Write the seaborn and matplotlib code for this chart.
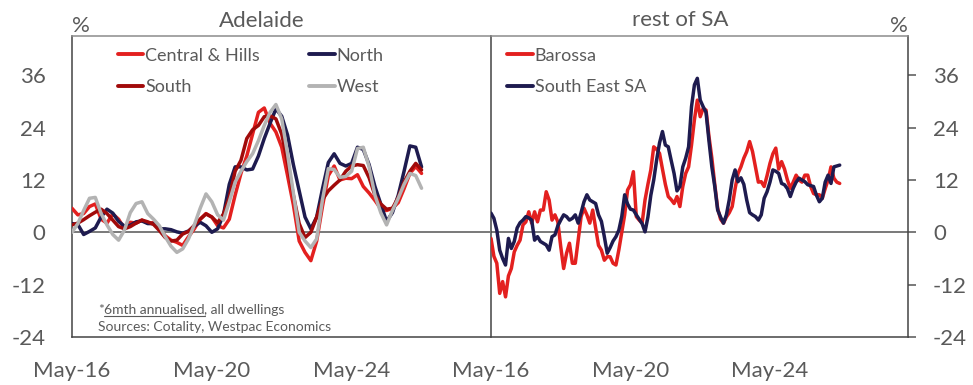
import numpy as np
import pandas as pd
import matplotlib
matplotlib.use("Agg")
import matplotlib.pyplot as plt
from matplotlib.lines import Line2D
import seaborn as sns

# Dwelling value growth, 6mth annualised (%); months counted from May-16
# Adelaide regions: every second month
months_adl = np.arange(0, 121, 2)

central_hills = [5.5, 4.0, 4.3, 5.9, 6.5, 3.0, 2.1, 4.2, 3.0, 0.8, 2.3, 2.1, 2.8, 2.1, 2.2, 0.8,
                 -0.8, -1.8, -2.3, -3.0, -1.0, 0.8, 3.0, 4.3, 3.5, 1.5, 1.0, 3.0, 8.5, 13.5, 17.5,
                 22.5, 27.5, 28.5, 25.0, 23.0, 19.5, 13.0, 6.3, -2.0, -4.6, -6.5, -2.0, 6.0, 13.0,
                 15.2, 12.0, 12.4, 12.3, 13.2, 10.5, 9.0, 7.3, 5.4, 5.0, 5.5, 6.8, 10.0, 13.5, 15.1, 13.5]
north = [2.0, 1.8, -0.5, 0.2, 1.0, 3.5, 5.3, 4.4, 2.5, 1.4, 1.6, 2.4, 2.6, 2.0, 2.0, 0.8,
         0.8, 0.6, 0.1, -0.2, 0.3, 1.4, 2.3, 1.5, 0.0, 0.8, 4.0, 11.0, 15.0, 15.0, 14.3,
         14.5, 17.5, 21.5, 25.0, 28.3, 26.6, 22.3, 15.5, 9.5, 3.5, 0.8, 3.5, 10.0, 16.0,
         18.0, 15.8, 15.2, 15.8, 19.5, 19.0, 15.5, 10.5, 6.5, 2.5, 4.5, 8.5, 14.0, 19.8, 19.5, 15.0]
south = [1.7, 2.1, 2.9, 3.8, 4.6, 5.3, 4.3, 2.8, 1.3, 0.8, 1.3, 2.1, 2.8, 2.4, 1.8, 0.4,
         -1.2, -2.0, -1.8, -0.4, 0.2, 1.6, 3.0, 4.2, 3.5, 2.2, 4.2, 8.0, 14.0, 16.5, 21.5,
         23.5, 24.5, 26.5, 26.7, 26.0, 22.5, 16.0, 8.5, 2.0, -1.2, 0.0, 3.5, 7.5, 9.5,
         10.8, 12.0, 14.0, 15.2, 15.5, 15.3, 12.5, 8.5, 6.5, 5.3, 5.5, 8.0, 11.5, 14.0, 15.8, 14.3]
west = [0.0, 2.0, 5.0, 7.8, 8.0, 4.3, 1.7, -0.5, -1.8, 0.5, 4.5, 6.6, 7.0, 4.3, 3.0, 1.5,
        -1.0, -3.2, -4.6, -3.8, -1.5, 1.7, 5.5, 8.8, 7.0, 4.0, 2.8, 7.0, 11.5, 14.0, 16.2,
        18.0, 21.0, 24.5, 27.5, 29.3, 26.0, 18.0, 9.0, 0.0, -2.0, -3.5, -1.5, 7.5, 14.6,
        14.4, 12.6, 12.8, 14.0, 19.2, 19.5, 15.0, 8.5, 4.5, 1.7, 5.0, 7.8, 11.0, 13.5, 13.0, 10.1]

# rest of SA regions: monthly
months_rest = np.arange(0, 121)

barossa = [-1.4, -5.5, -7.1, -14.0, -11.3, -14.8, -10.0, -8.3, -4.5, -3.0,
           -1.8, 1.7, 2.4, 4.7, 2.1, 4.7, 2.4, 5.1, 5.1, 9.3,
           7.4, 2.8, 4.0, 2.4, -3.3, -8.3, -4.8, -2.5, -7.1, -7.1,
           -1.8, 3.6, 5.5, 4.0, 2.1, 5.1, 1.0, -3.0, -4.1, -6.4,
           -5.6, -5.6, -7.1, -7.5, -4.0, 0.0, 4.0, 9.7, 10.9, 13.9,
           3.6, 2.8, 2.1, 7.4, 11.0, 14.3, 19.6, 19.0, 18.1, 14.5,
           11.0, 8.2, 7.5, 6.6, 8.2, 5.9, 10.5, 13.5, 15.0, 20.0,
           25.8, 30.3, 26.5, 28.4, 28.0, 22.0, 17.0, 11.0, 5.5, 3.0,
           2.1, 3.5, 4.5, 5.9, 10.0, 13.5, 15.0, 17.0, 18.5, 20.8,
           18.5, 15.0, 11.5, 11.6, 10.5, 13.0, 15.8, 18.0, 19.3, 14.5,
           16.2, 14.5, 12.0, 10.1, 11.5, 13.1, 12.0, 11.5, 13.1, 13.1,
           10.5, 8.9, 8.6, 8.6, 7.8, 10.0, 12.0, 15.0, 12.4, 11.5,
           11.2]
south_east_sa = [4.4, 3.2, 0.5, -4.1, -6.0, -7.5, -1.4, -3.7, -2.1, 1.0,
                 2.2, 2.8, 3.6, 3.3, 2.8, -1.8, -1.0, -2.1, -2.5, -2.9,
                 -4.1, -1.0, -0.6, 1.5, 2.8, 4.0, 3.6, 2.8, 3.2, 4.0,
                 2.1, 4.5, 7.0, 8.6, 7.4, 7.0, 6.6, 4.0, 2.5, -1.0,
                 -4.8, -3.5, -2.0, -1.0, 0.5, 3.6, 8.6, 6.5, 5.3, 5.1,
                 4.0, 3.0, 2.0, 0.1, 3.5, 8.5, 12.0, 16.6, 20.5, 23.1,
                 20.0, 19.6, 16.5, 13.5, 9.5, 10.5, 15.0, 17.0, 19.6, 28.8,
                 33.8, 35.3, 30.3, 28.8, 27.5, 21.0, 15.0, 10.5, 5.1, 3.5,
                 2.1, 4.0, 7.5, 12.0, 14.3, 11.6, 12.5, 11.0, 7.4, 4.5,
                 4.0, 3.6, 2.8, 4.0, 7.8, 9.3, 11.5, 14.3, 14.0, 13.5,
                 11.2, 10.9, 10.0, 8.2, 10.1, 11.5, 12.4, 12.0, 11.6, 10.9,
                 10.7, 10.5, 8.5, 7.0, 7.8, 11.5, 13.1, 11.2, 15.0, 15.2,
                 15.4]

adelaide_names = ["Central & Hills", "North", "South", "West"]
rest_names = ["Barossa", "South East SA"]
x_tick_pos = [0, 48, 96]
x_tick_labels = ["May-16", "May-20", "May-24"]
y_ticks = [-24, -12, 0, 12, 24, 36]

colors = {"Central & Hills": "#E3201F", "North": "#1E1B4F", "South": "#A10A0A",
          "West": "#B3B3B3", "Barossa": "#E3201F", "South East SA": "#1E1B4F"}


def long_frame(months, names, series):
    parts = [pd.DataFrame({"month": months, "value": vals, "region": name})
             for name, vals in zip(names, series)]
    return pd.concat(parts, ignore_index=True)


df_adl = long_frame(months_adl, adelaide_names, [central_hills, north, south, west])
df_rest = long_frame(months_rest, rest_names, [barossa, south_east_sa])

sns.set_style("white")
plt.rcParams["font.family"] = ["Lato", "DejaVu Sans"]
plt.rcParams["axes.unicode_minus"] = False
TXT = "#5a5a5a"

W, H = 973, 385
fig = plt.figure(figsize=(W / 100, H / 100), dpi=100)
axL = fig.add_axes([72 / W, 1 - 337 / H, 418 / W, 301 / H])
axR = fig.add_axes([491 / W, 1 - 337 / H, 417 / W, 301 / H])

for ax, df, names in [(axL, df_adl, adelaide_names), (axR, df_rest, rest_names)]:
    ax.axhline(0, color="#555555", lw=1.1, zorder=1)
    sns.lineplot(data=df, x="month", y="value", hue="region", hue_order=names,
                 palette=colors, linewidth=2.5, ax=ax, legend=False, zorder=3)
    ax.set_xlim(0, 143.5)
    ax.set_ylim(-24, 45)
    ax.set_xlabel("")
    ax.set_ylabel("")
    ax.set_xticks(x_tick_pos)
    ax.set_xticklabels(x_tick_labels)
    ax.set_yticks(y_ticks)
    ax.tick_params(axis="x", direction="out", length=8, width=1.1, color="#555555",
                   pad=9, labelsize=16, labelcolor=TXT)
    ax.tick_params(axis="y", direction="out", length=6, width=1.1, color="#555555",
                   pad=13, labelsize=16, labelcolor=TXT)
    for s in ax.spines.values():
        s.set_color("#444444")
        s.set_linewidth(1.1)
    ax.spines["top"].set_color("#8c8c8c")

axL.spines["right"].set_visible(False)
axR.yaxis.tick_right()
axR.tick_params(axis="y", pad=12)

# panel titles and unit markers
axL.text(0.4545, 1.03, "Adelaide", transform=axL.transAxes, ha="center", va="baseline",
         fontsize=16, color=TXT)
axR.text(0.453, 1.033, "rest of SA", transform=axR.transAxes, ha="center", va="baseline",
         fontsize=16, color=TXT)
axL.text(0.0, 1.013, "%", transform=axL.transAxes, ha="left", va="baseline",
         fontsize=16, color=TXT)
axR.text(1.0, 1.013, "%", transform=axR.transAxes, ha="right", va="baseline",
         fontsize=16, color=TXT)


# legends (two columns on the left panel, filled column by column)
def handles(names):
    return [Line2D([0], [0], color=colors[n], lw=2.8) for n in names]


legL_order = ["Central & Hills", "South", "North", "West"]
axL.legend(handles(legL_order), legL_order, ncol=2, loc="upper left",
           bbox_to_anchor=(0.07, 1.015), frameon=False, fontsize=13,
           handlelength=1.4, handletextpad=0.12, columnspacing=2.75,
           labelspacing=0.85, labelcolor=TXT)
axR.legend(handles(rest_names), rest_names, ncol=1, loc="upper left",
           bbox_to_anchor=(0.0, 1.015), frameon=False, fontsize=13,
           handlelength=1.4, handletextpad=0.12, labelspacing=0.85,
           labelcolor=TXT)

# footnote with underlined phrase
r = fig.canvas.get_renderer()
fs = 10
y1 = 1 - 313.5 / H
t1 = fig.text(98 / W, y1, "*", fontsize=fs, color=TXT, ha="left", va="baseline")
b1 = t1.get_window_extent(r)
t2 = fig.text(b1.x1 / W, y1, "6mth annualised", fontsize=fs, color=TXT, ha="left", va="baseline")
b2 = t2.get_window_extent(r)
fig.add_artist(Line2D([b2.x0 / W, b2.x1 / W], [1 - 315.5 / H, 1 - 315.5 / H],
                      color=TXT, lw=0.8, transform=fig.transFigure))
fig.text(b2.x1 / W, y1, ", all dwellings", fontsize=fs, color=TXT, ha="left", va="baseline")
fig.text(98 / W, 1 - 331 / H, "Sources: Cotality, Westpac Economics", fontsize=fs,
         color=TXT, ha="left", va="baseline")

fig.savefig("out.png", dpi=100)
